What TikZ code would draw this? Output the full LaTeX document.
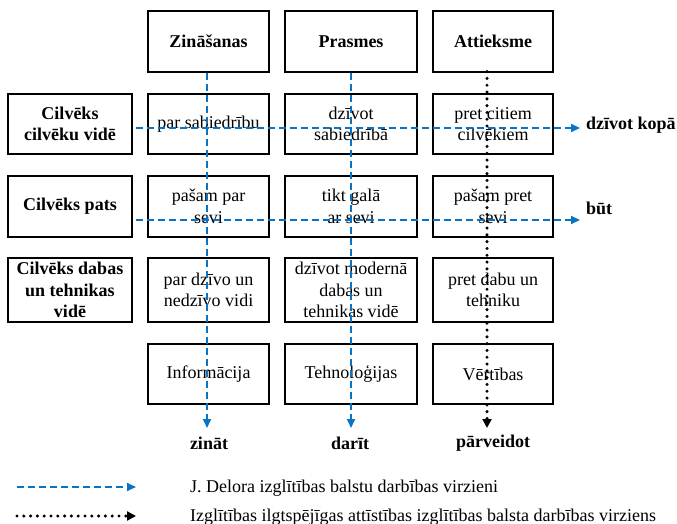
\documentclass[tikz,border=0pt]{standalone}
\usepackage{fontspec}
\setmainfont{Liberation Serif}
\usetikzlibrary{arrows.meta}
\definecolor{delorsblue}{RGB}{10,115,196}
\tikzset{
  txt/.style={font=\fontsize{18}{21.5}\selectfont, align=center, inner sep=0pt},
  cell/.style={txt, draw, line width=1.3pt, minimum height=60pt},
  headcell/.style={cell, font=\fontsize{18}{21.5}\selectfont\bfseries},
  delors/.style={delorsblue, line width=1.8pt, dash pattern=on 7pt off 4pt,
    -{Triangle[length=9pt,width=8pt]}},
  sustain/.style={black, line width=3.4pt, line cap=round, dash pattern=on 0pt off 6.8pt,
    -{Triangle[length=9pt,width=9pt]}},
  endlabel/.style={txt, font=\fontsize{18}{21.5}\selectfont\bfseries}
}
\begin{document}
\begin{tikzpicture}[x=1pt,y=-1pt]
\useasboundingbox (0,0) rectangle (677,524);

% column headers
\node[headcell, minimum width=121pt, minimum height=61pt] (zin) at (208.5,41.5) {Zināšanas};
\node[headcell, minimum width=132pt, minimum height=61pt] (pra) at (351,41.5) {Prasmes};
\node[headcell, minimum width=120pt, minimum height=61pt] (att) at (493,41.5) {Attieksme};

% row headers
\node[headcell, minimum width=124pt] (rcil) at (70,124) {Cilvēks\\cilvēku vidē};
\node[headcell, minimum width=124pt, minimum height=61pt] (rpat) at (70,206.5) {Cilvēks pats};
\node[headcell, minimum width=124pt, minimum height=64pt] (rdab) at (70,290) {Cilvēks dabas\\un tehnikas\\vidē};

% row: human among humans
\node[cell, minimum width=121pt] (a1) at (208.5,124) {par sabiedrību};
\node[cell, minimum width=132pt] (b1) at (351,124) {dzīvot\\sabiedrībā};
\node[cell, minimum width=120pt] (c1) at (493,124) {pret citiem\\cilvēkiem};

% row: human as self
\node[cell, minimum width=121pt, minimum height=61pt] (a2) at (208.5,206.5) {pašam par\\sevi};
\node[cell, minimum width=132pt, minimum height=61pt] (b2) at (351,206.5) {tikt galā\\ar sevi};
\node[cell, minimum width=120pt, minimum height=61pt] (c2) at (493,206.5) {pašam pret\\sevi};

% row: human in nature and technology
\node[cell, minimum width=121pt, minimum height=64pt] (a3) at (208.5,290) {par dzīvo un\\nedzīvo vidi};
\node[cell, minimum width=132pt, minimum height=64pt] (b3) at (351,290) {dzīvot modernā\\dabas un\\tehnikas vidē};
\node[cell, minimum width=120pt, minimum height=64pt] (c3) at (493,290) {pret dabu un\\tehniku};

% bottom row
\node[cell, minimum width=121pt] (a4) at (208.5,374) {Informācija};
\node[cell, minimum width=132pt] (b4) at (351,374) {Tehnoloģijas};
\node[cell, minimum width=120pt] (c4) at (493,374) {Vērtības};

% outcome labels
\node[endlabel] (lzin) at (209,443) {zināt};
\node[endlabel] (ldar) at (350,443) {darīt};
\node[endlabel] (lpar) at (493,443) {pārveidot};
\node[endlabel, anchor=west] (lkop) at (586,125) {dzīvot kopā};
\node[endlabel, anchor=west] (lbut) at (586,208) {būt};

% line ends
\coordinate (e1) at (207,428);
\coordinate (e2) at (351,428);
\coordinate (e3) at (487,428);
\coordinate (h1) at (580,128);
\coordinate (h2) at (580,220);

% direction lines
\draw[delors] (zin.south -| e1) -- (e1);
\draw[delors] (pra.south -| e2) -- (e2);
\draw[sustain] ([yshift=1pt]att.south -| e3) -- (e3);
\draw[delors] ([xshift=3pt]rcil.east |- h1) -- (h1);
\draw[delors] ([xshift=3pt]rpat.east |- h2) -- (h2);

% legend
\coordinate (k1s) at (17,487);
\coordinate (k1e) at (136,487);
\coordinate (k2s) at (17,516);
\coordinate (k2e) at (136,516);
\draw[delors] (k1s) -- (k1e);
\draw[sustain] (k2s) -- (k2e);
\node[txt, anchor=west] (t1) at (190,488) {J. Delora izglītības balstu darbības virzieni};
\node[txt, anchor=west] (t2) at (190,517) {Izglītības ilgtspējīgas attīstības izglītības balsta darbības virziens};
\end{tikzpicture}
\end{document}
